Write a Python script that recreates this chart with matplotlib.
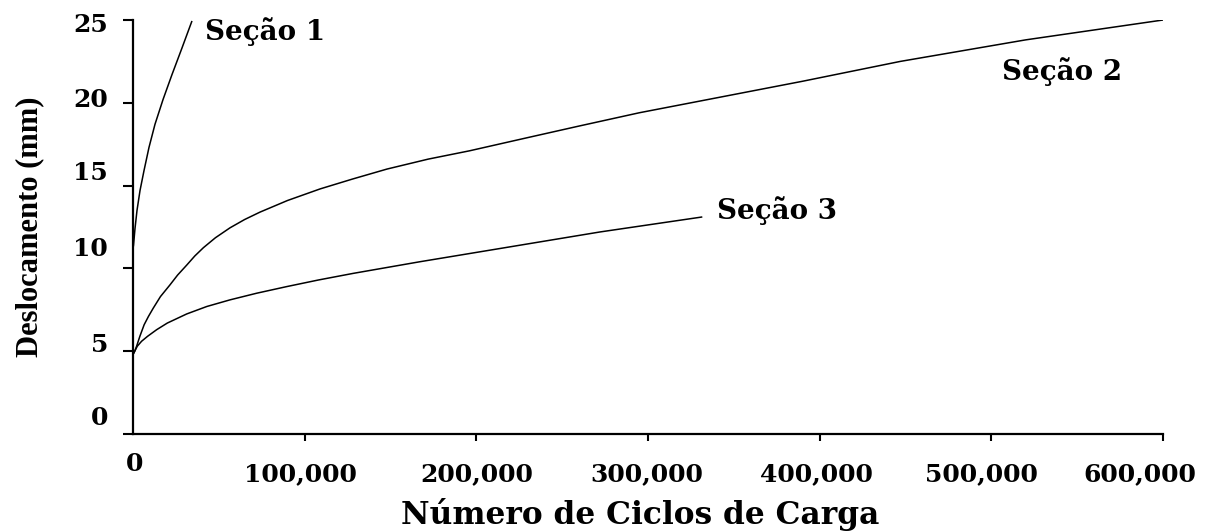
import matplotlib
matplotlib.use("Agg")
import matplotlib.pyplot as plt
from matplotlib.transforms import ScaledTranslation

# displacement curves (cycles, mm)
secao1_x = [0, 300, 1160, 2330, 4080, 6400, 9300, 12800, 17500, 22700, 28500, 34200]
secao1_y = [11.2, 11.4, 12.4, 13.5, 14.7, 15.9, 17.3, 18.7, 20.2, 21.7, 23.3, 24.9]

secao2_x = [0, 1000, 2100, 4000, 6500, 9000, 11800, 16000, 21500, 26000, 31300, 36000,
            41000, 48000, 56500, 65000, 74000, 90000, 109000, 128000, 148000, 172000,
            196000, 230000, 260000, 295000, 330000, 390000, 447000, 520000, 600000]
secao2_y = [4.8, 5.0, 5.3, 5.9, 6.6, 7.1, 7.6, 8.3, 9.0, 9.6, 10.2, 10.75,
            11.25, 11.85, 12.45, 12.95, 13.4, 14.1, 14.8, 15.4, 16.0, 16.6,
            17.1, 17.9, 18.6, 19.4, 20.1, 21.3, 22.5, 23.8, 25.0]

secao3_x = [0, 1000, 2500, 5000, 8500, 13800, 20000, 31300, 43000, 56500, 72000,
            89500, 108000, 128300, 167000, 213700, 272000, 331200]
secao3_y = [4.8, 5.0, 5.3, 5.6, 5.9, 6.3, 6.7, 7.25, 7.7, 8.1, 8.5,
            8.9, 9.3, 9.7, 10.4, 11.2, 12.2, 13.1]

x_ticks = [0, 100000, 200000, 300000, 400000, 500000, 600000]
x_labels = ["0", "100,000", "200,000", "300,000", "400,000", "500,000", "600,000"]
# horizontal nudge of each x tick label, in points
x_label_shift = [1, -3, 0, -1, -2, -7, -17]
y_ticks = [0, 5, 10, 15, 20, 25]
# vertical nudge of each y tick label, in points
y_label_shift = [13, 6, 16, 11, 4, -2]

fig = plt.figure(figsize=(12.11, 5.32), dpi=100)
ax = fig.add_axes([133 / 1211, 98 / 532, 1030 / 1211, 414 / 532])

ax.plot(secao1_x, secao1_y, color="black", lw=1.1)
ax.plot(secao2_x, secao2_y, color="black", lw=1.1)
ax.plot(secao3_x, secao3_y, color="black", lw=1.1)

lbl = dict(family="DejaVu Serif", fontweight="bold", fontsize=20, va="center", ha="left")
ax.text(41900, 24.3, "Seção 1", **lbl)
ax.text(506000, 21.9, "Seção 2", **lbl)
ax.text(340000, 13.5, "Seção 3", **lbl)

ax.set_xlim(0, 600000)
ax.set_ylim(0, 25)

for s in ["top", "right"]:
    ax.spines[s].set_visible(False)
for s in ["left", "bottom"]:
    ax.spines[s].set_linewidth(1.6)

ax.set_xticks(x_ticks)
ax.set_xticklabels(x_labels)
ax.set_yticks(y_ticks)
ax.tick_params(axis="x", length=5, width=1.5, pad=15, direction="out")
ax.tick_params(axis="y", length=7, width=1.5, pad=11, direction="out")
for t in ax.get_xticklabels() + ax.get_yticklabels():
    t.set_family("DejaVu Serif")
    t.set_fontweight("bold")
    t.set_fontsize(18)

xt = ax.xaxis.get_major_ticks()
xt[0].tick1line.set_visible(False)
xt[0].set_pad(8)
for tk, dx in zip(xt, x_label_shift):
    tk.label1.set_transform(tk.label1.get_transform()
                            + ScaledTranslation(dx / 72, 0, fig.dpi_scale_trans))

for tk, dy in zip(ax.yaxis.get_major_ticks(), y_label_shift):
    tk.label1.set_transform(tk.label1.get_transform()
                            + ScaledTranslation(0, dy / 72, fig.dpi_scale_trans))

ax.set_xlabel("Número de Ciclos de Carga", family="DejaVu Serif",
              fontweight="bold", fontsize=22.5, labelpad=6)
ax.xaxis.set_label_coords(0.492, -0.155)
ax.set_ylabel("Deslocamento (mm)", family="Liberation Serif",
              fontweight="bold", fontsize=22, labelpad=21)

fig.savefig("out.png", dpi=100)
